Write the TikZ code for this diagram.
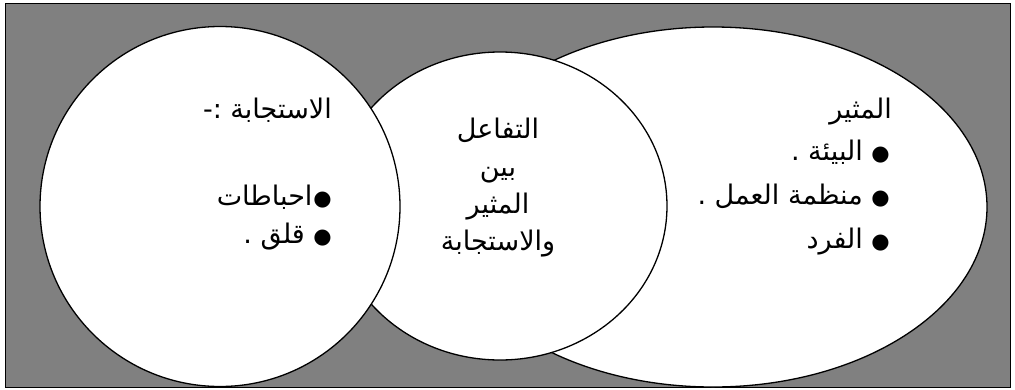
\documentclass[tikz,border=0pt]{standalone}
\usepackage{fontspec}
\usetikzlibrary{shapes.geometric}
\TeXXeTstate=1
\newfontfamily\arabicfont[Script=Arabic]{DejaVu Sans}
\definecolor{panel}{RGB}{128,128,128}
\newcommand{\dotmark}{{\fontsize{21}{24}\selectfont ●}}
\tikzset{
  bubble/.style={ellipse, draw=black, fill=white, line width=1.3pt, inner sep=0pt},
  txt/.style={font=\arabicfont\fontsize{27}{30}\selectfont, inner sep=0pt},
}
\begin{document}
\begin{tikzpicture}[x=1pt,y=-1pt]
  \useasboundingbox (0,0) rectangle (1015,389);
  \fill[panel] (5,3) rectangle (1010,387);
  \draw[line width=1pt] (5,3) rectangle (1010,387);
  % the three bubbles, back to front
  \node[bubble, minimum width=548pt, minimum height=360pt] (stimulus) at (713,207) {};
  \node[bubble, minimum width=334pt, minimum height=308pt] (interaction) at (500,206) {};
  \node[bubble, minimum width=360pt, minimum height=360pt] (response) at (220,206.5) {};
  % response
  \node[txt, anchor=base east] (respT) at (332,118) {\beginR الاستجابة :-\endR};
  \node[txt, anchor=base east] (resp1) at (332,205) {\beginR \dotmark\kern1pt احباطات\endR};
  \node[txt, anchor=base east] (resp2) at (332,243) {\beginR \dotmark{} قلق .\endR};
  % interaction
  \node[txt, anchor=base] (midA) at (498,138) {\beginR التفاعل\endR};
  \node[txt, anchor=base] (midB) at (498,176) {\beginR بين\endR};
  \node[txt, anchor=base] (midC) at (498,213) {\beginR المثير\endR};
  \node[txt, anchor=base] (midD) at (498,250) {\beginR والاستجابة\endR};
  % stimulus
  \node[txt, anchor=base east] (stimT) at (892,118) {\beginR المثير\endR};
  \node[txt, anchor=base east] (stim1) at (890,160) {\beginR \dotmark{} البيئة .\endR};
  \node[txt, anchor=base east] (stim2) at (890,204) {\beginR \dotmark{} منظمة العمل .\endR};
  \node[txt, anchor=base east] (stim3) at (890,248) {\beginR \dotmark{} الفرد\endR};
\end{tikzpicture}
\end{document}
